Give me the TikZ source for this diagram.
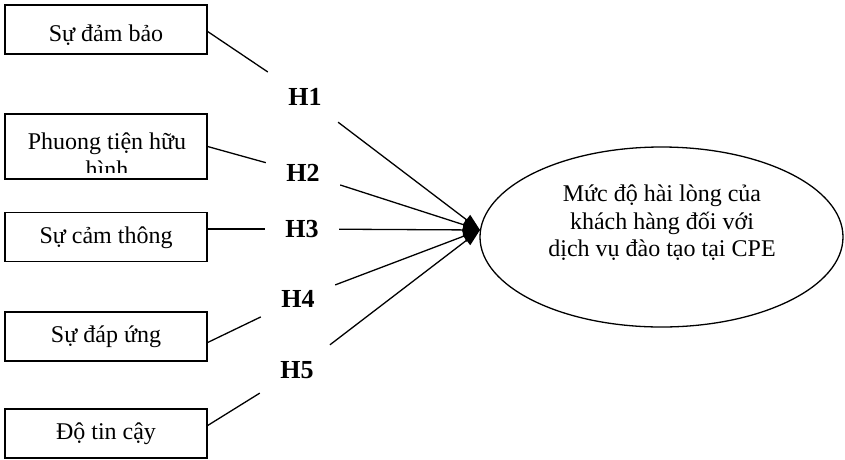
\documentclass[tikz,border=0pt]{standalone}
\usepackage{fontspec}
\setmainfont{Liberation Serif}
\usetikzlibrary{arrows.meta,shapes.geometric}
\begin{document}
\begin{tikzpicture}[x=1pt,y=-1pt]
  \tikzset{ box/.style={draw,rectangle,line width=1.3pt,minimum width=202pt,minimum height=49pt,inner sep=0pt,
      font=\fontsize{24}{27.6}\selectfont,text height=20pt,text depth=8pt},
    hyp/.style={inner sep=0pt,minimum width=74pt,minimum height=50pt,font=\fontsize{26}{30}\selectfont\bfseries},
    link/.style={line width=1.3pt},
    arr/.style={line width=1.3pt,-{Triangle[length=17pt,width=12pt]}},
  }
  \useasboundingbox (0,0) rectangle (845,459);
  % the five factors
  \node[box,text height=26pt,text depth=2pt] (b1) at (106,29.5) {Sự đảm bảo};
  \node[box,minimum height=65pt] (b2) at (106,146.5) {};
  \node[box] (b3) at (106,237) {Sự cảm thông};
  \node[box] (b4) at (106,336.5) {Sự đáp ứng};
  \node[box] (b5) at (106,433.5) {Độ tin cậy};
  % second box: its text runs past the bottom and is cut off
  \begin{scope}
    \clip (b2.north west) rectangle (207,172);
    \node[align=center,inner sep=0pt,font=\fontsize{24}{27.6}\selectfont] (b2t) at (107,155) {Phuong tiện hữu\\hình};
  \end{scope}

  % the outcome
  \node[draw,ellipse,line width=1.3pt,minimum width=363pt,minimum height=180pt] (sat) at (661.5,237) {};
  \node[align=center,inner sep=0pt,font=\fontsize{24}{27.6}\selectfont] (satt) at (662,223)
    {Mức độ hài lòng của\\khách hàng đối với\\dịch vụ đào tạo tại CPE};
  \coordinate (tip) at (480,230);

  % the hypotheses
  \node[hyp] (h1) at (305,97) {H1};
  \node[hyp] (h2) at (303,173) {H2};
  \node[hyp] (h3) at (302,229) {H3};
  \node[hyp] (h4) at (298,299) {H4};
  \node[hyp] (h5) at (297,370) {H5};

  % the connection between boxes, labels and the ellipse
  \draw[link] ([yshift=-2pt]b1.east) -- (h1);
  \draw[link] (b2.east) -- (h2);
  \draw[link] (b3.east |- h3) -- (h3);
  \draw[link] ([yshift=-6pt]b4.east) -- (h4);
  \draw[link] ([yshift=8pt]b5.east) -- (h5);
  \draw[arr] (h1) -- (tip);
  \draw[arr] (h2) -- (tip);
  \draw[arr] (h3) -- (tip);
  \draw[arr] (h4) -- (tip);
  \draw[arr] (h5) -- (tip);
\end{tikzpicture}
\end{document}
